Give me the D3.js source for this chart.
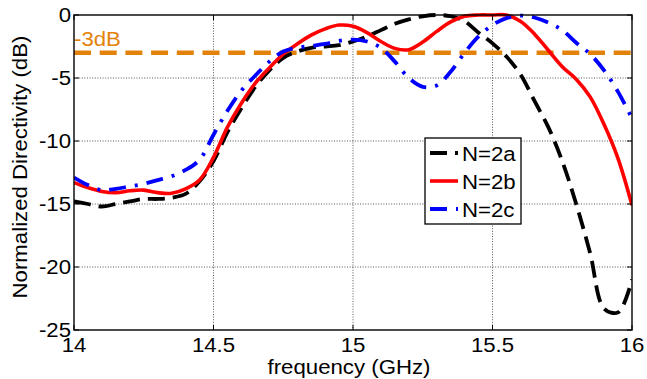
<!DOCTYPE html>
<html>
<head>
<meta charset="utf-8">
<script src="https://cdn.jsdelivr.net/npm/d3@7/dist/d3.min.js"></script>
<style>
  html, body { margin: 0; padding: 0; background: #fff; }
  svg { display: block; }
  text { font-family: "Liberation Sans", Arial, sans-serif; font-size: 19.5px; fill: #000; }
</style>
</head>
<body>
<svg id="chart" width="647" height="379"></svg>
<script>
// Frequency grid (GHz) shared by all three traces
const freq = [14.00, 14.05, 14.10, 14.15, 14.20, 14.25, 14.30, 14.35, 14.40, 14.45,
              14.50, 14.55, 14.60, 14.65, 14.70, 14.75, 14.80, 14.85, 14.90, 14.95,
              15.00, 15.05, 15.10, 15.15, 15.20, 15.25, 15.30, 15.35, 15.40, 15.45,
              15.50, 15.55, 15.60, 15.65, 15.70, 15.75, 15.80, 15.85, 15.90, 15.95, 16.00];

// Normalized directivity (dB)
const dirN2a = [-14.8, -15.0, -15.2, -15.0, -14.8, -14.6, -14.6, -14.5, -14.2, -13.2,
                -11.6, -9.3, -7.4, -5.7, -4.4, -3.4, -2.9, -2.6, -2.5, -2.4,
                -2.1, -1.7, -1.2, -0.7, -0.35, -0.1, 0.0, -0.1, -0.5, -1.4,
                -2.25, -3.3, -4.7, -6.8, -8.9, -11.6, -15.0, -18.9, -23.3, -23.6, -21.0];

const dirN2b = [-13.3, -13.7, -14.0, -14.1, -13.95, -13.9, -14.1, -14.15, -13.8, -13.1,
                -11.3, -8.9, -7.0, -5.4, -4.2, -3.1, -2.3, -1.6, -1.1, -0.8,
                -0.9, -1.4, -2.1, -2.65, -2.75, -2.15, -1.3, -0.55, -0.1, 0.0,
                0.0, 0.0, -0.5, -1.5, -2.8, -4.1, -5.1, -6.5, -8.7, -11.4, -15.1];

const dirN2c = [-12.9, -13.5, -13.9, -13.8, -13.6, -13.4, -13.1, -12.8, -12.3, -11.5,
                -9.5, -7.6, -6.0, -4.8, -3.7, -2.9, -2.6, -2.45, -2.3, -2.05,
                -1.95, -2.1, -2.6, -3.7, -5.0, -5.7, -5.6, -4.5, -3.0, -1.7,
                -0.8, -0.25, -0.05, -0.2, -0.6, -1.2, -2.2, -3.1, -4.4, -6.1, -8.2];

const seriesNames = ["N=2a", "N=2b", "N=2c"];
const xTicks = [14, 14.5, 15, 15.5, 16];
const yTicks = [0, -5, -10, -15, -20, -25];
const refLevel = -3;
const refLabel = "-3dB";
const xTitle = "frequency (GHz)";
const yTitle = "Normalized Directivity (dB)";

const styles = [
  { color: "#000000", dash: "17,8",       width: 3.8 },
  { color: "#ff0000", dash: null,         width: 3.6 },
  { color: "#0000ff", dash: "17,9,3,9",   width: 3.8 }
];

const svg = d3.select("#chart");
const plot = { left: 74, right: 632, top: 15, bottom: 330 };

const x = d3.scaleLinear().domain([14, 16]).range([plot.left, plot.right]);
const y = d3.scaleLinear().domain([-25, 0]).range([plot.bottom, plot.top]);

const TX = 1.14; // horizontal stretch of the lettering

function label(g, px, py, str, anchor, color) {
  return g.append("text")
    .attr("transform", `translate(${px},${py}) scale(${TX},1)`)
    .attr("text-anchor", anchor || "start")
    .style("fill", color || "#000")
    .text(str);
}

// white axes background
svg.append("rect")
  .attr("x", plot.left).attr("y", plot.top)
  .attr("width", plot.right - plot.left).attr("height", plot.bottom - plot.top)
  .attr("fill", "#fff");

// dotted grid
const grid = svg.append("g")
  .attr("stroke", "#444").attr("stroke-width", 0.9).attr("stroke-dasharray", "1,1.6");
grid.selectAll("line.vx").data(xTicks.slice(1, -1)).join("line")
  .attr("x1", d => x(d)).attr("x2", d => x(d))
  .attr("y1", plot.top).attr("y2", plot.bottom);
grid.selectAll("line.hy").data(yTicks.slice(1, -1)).join("line")
  .attr("y1", d => y(d)).attr("y2", d => y(d))
  .attr("x1", plot.left).attr("x2", plot.right);

svg.append("clipPath").attr("id", "plotClip").append("rect")
  .attr("x", plot.left).attr("y", plot.top - 3)
  .attr("width", plot.right - plot.left).attr("height", plot.bottom - plot.top + 6);

const layer = svg.append("g").attr("clip-path", "url(#plotClip)");

// -3 dB reference line
layer.append("line")
  .attr("x1", x(14)).attr("x2", x(16))
  .attr("y1", y(refLevel)).attr("y2", y(refLevel))
  .attr("stroke", "#e3820a").attr("stroke-width", 4.5)
  .attr("stroke-dasharray", "17,8.7");

// directivity traces
const line = d3.line()
  .x((d, i) => x(freq[i]))
  .y(d => y(d))
  .curve(d3.curveCatmullRom.alpha(0.5));

[dirN2a, dirN2b, dirN2c].forEach((vals, k) => {
  layer.append("path")
    .datum(vals)
    .attr("d", line)
    .attr("fill", "none")
    .attr("stroke", styles[k].color)
    .attr("stroke-width", styles[k].width)
    .attr("stroke-dasharray", styles[k].dash)
    .attr("stroke-linejoin", "round");
});

// reference label
label(svg, plot.left, 46, refLabel, "start", "#e3820a");

// axes box and inward ticks
svg.append("rect")
  .attr("x", plot.left).attr("y", plot.top)
  .attr("width", plot.right - plot.left).attr("height", plot.bottom - plot.top)
  .attr("fill", "none").attr("stroke", "#000").attr("stroke-width", 1.4);

const ticks = svg.append("g").attr("stroke", "#000").attr("stroke-width", 1);
const tl = 5;
xTicks.forEach(t => {
  ticks.append("line").attr("x1", x(t)).attr("x2", x(t)).attr("y1", plot.bottom).attr("y2", plot.bottom - tl);
  ticks.append("line").attr("x1", x(t)).attr("x2", x(t)).attr("y1", plot.top).attr("y2", plot.top + tl);
});
yTicks.forEach(t => {
  ticks.append("line").attr("y1", y(t)).attr("y2", y(t)).attr("x1", plot.left).attr("x2", plot.left + tl);
  ticks.append("line").attr("y1", y(t)).attr("y2", y(t)).attr("x1", plot.right).attr("x2", plot.right - tl);
});

// tick labels
xTicks.forEach(t => label(svg, x(t), 352, String(t), "middle"));
yTicks.forEach(t => label(svg, plot.left - 3, y(t) + 7, String(t), "end"));

// axis titles
label(svg, (plot.left + plot.right) / 2 - 4, 374, xTitle, "middle");
svg.append("text")
  .attr("transform", `translate(27,167) rotate(-90) scale(${TX},1)`)
  .attr("text-anchor", "middle")
  .text(yTitle);

// legend
const lg = svg.append("g");
lg.append("rect")
  .attr("x", 425).attr("y", 138).attr("width", 96).attr("height", 86)
  .attr("fill", "#fff").attr("stroke", "#000").attr("stroke-width", 1.3);
seriesNames.forEach((name, k) => {
  const ly = 153 + k * 28;
  lg.append("line")
    .attr("x1", 430).attr("x2", 458).attr("y1", ly).attr("y2", ly)
    .attr("stroke", styles[k].color)
    .attr("stroke-width", styles[k].width)
    .attr("stroke-dasharray", styles[k].dash);
  label(lg, 462, ly + 8, name, "start");
});
</script>
</body>
</html>
